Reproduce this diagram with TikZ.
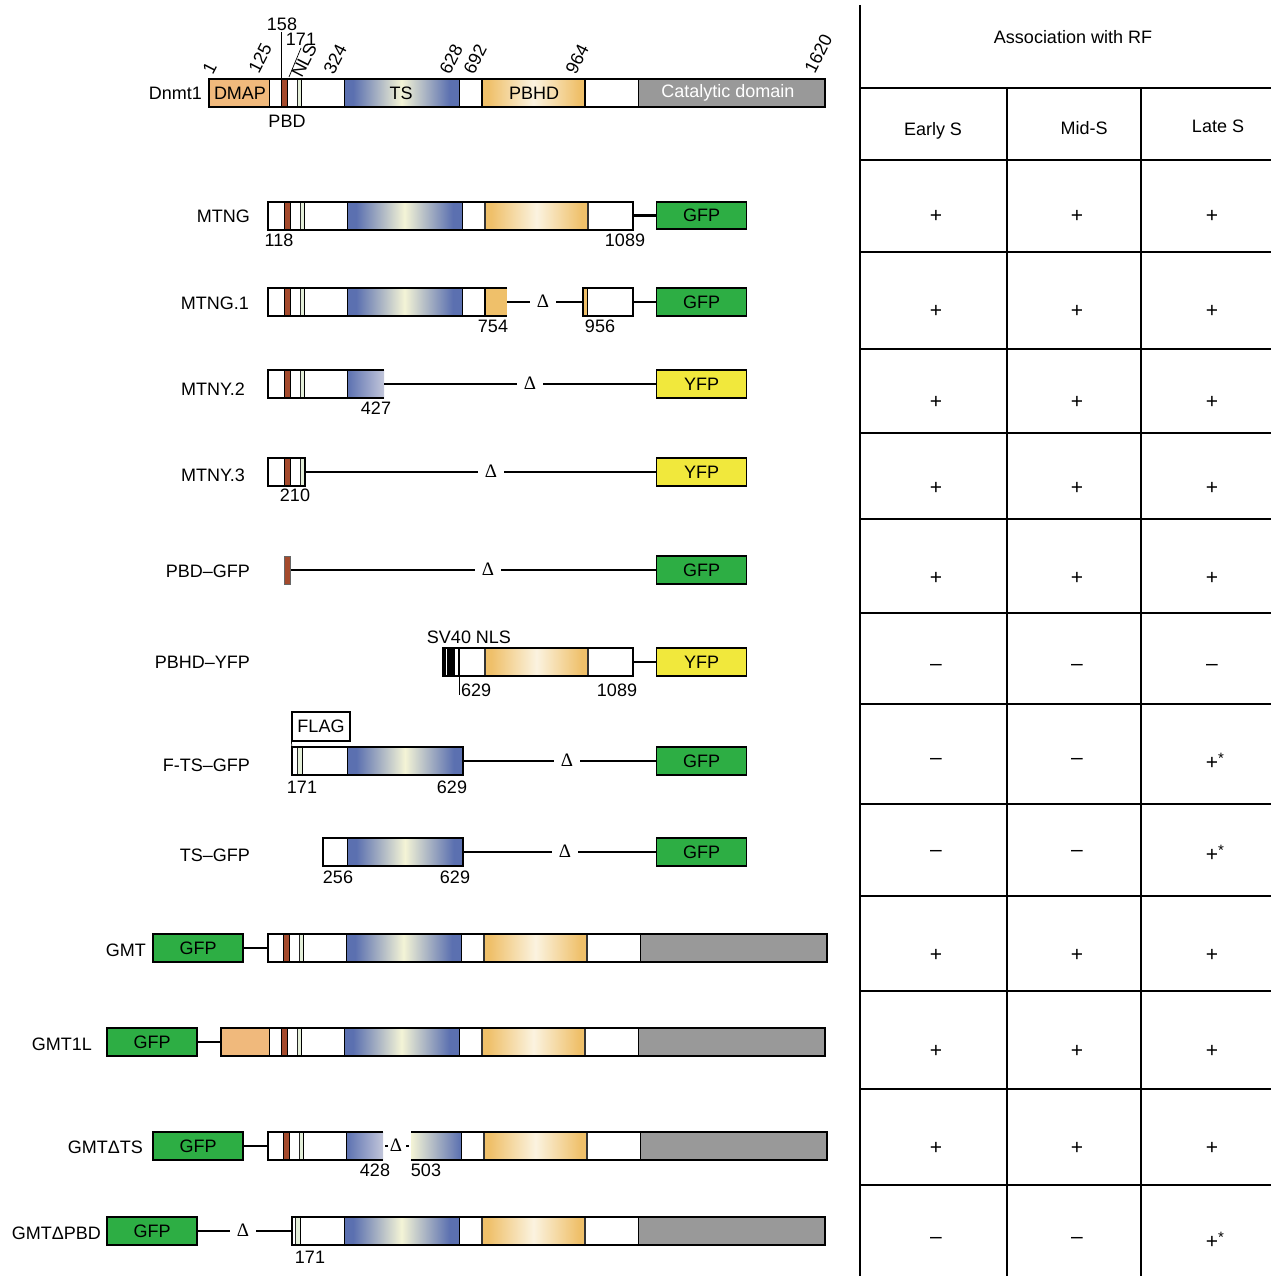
\documentclass[tikz,border=0pt]{standalone}
\usepackage{fontspec}
\setmainfont{Liberation Sans}
\newfontfamily\dserif{Liberation Serif}
\definecolor{dmap}{HTML}{F0B97C}
\definecolor{pbdc}{HTML}{A44A2C}
\definecolor{tsb}{HTML}{5B70B0}
\definecolor{tsc}{HTML}{F4F4D6}
\definecolor{tsl}{HTML}{C2C6DA}
\definecolor{pbo}{HTML}{EFC06A}
\definecolor{pbc}{HTML}{FBF3E0}
\definecolor{catc}{HTML}{999999}
\definecolor{gfpc}{HTML}{2DAE44}
\definecolor{yfpc}{HTML}{F1E83C}
\definecolor{nlsc}{HTML}{E4EFD9}
\pgfdeclarehorizontalshading{tsshade}{100bp}{color(0bp)=(tsb); color(25bp)=(tsb); color(29bp)=(tsb); color(50bp)=(tsc); color(71bp)=(tsb); color(75bp)=(tsb); color(100bp)=(tsb)}
\pgfdeclarehorizontalshading{pbshade}{100bp}{color(0bp)=(pbo); color(25bp)=(pbo); color(28bp)=(pbo); color(50bp)=(pbc); color(72bp)=(pbo); color(75bp)=(pbo); color(100bp)=(pbo)}
\newcommand\rbox[4][]{\path[#1] (#2,#4-14) rectangle (#3,#4+14);}
\newcommand\outl[3]{\draw[bar] (#1,#3-14) rectangle (#2,#3+14);}
\newcommand\headpart[2]{%
 \rbox[fill=white,seg]{#1}{281}{#2}
 \rbox[fill=pbdc,seg]{281}{287}{#2}
 \rbox[fill=white,seg]{287}{297}{#2}
 \rbox[nlsst]{297}{301}{#2}
 \rbox[fill=white,seg]{301}{344}{#2}}
\newcommand\tailcat[1]{%
 \rbox[ts,seg]{344}{459}{#1}
 \rbox[fill=white,seg]{459}{482}{#1}
 \rbox[pb,seg]{482}{585}{#1}
 \rbox[fill=white,seg]{585}{638}{#1}
 \rbox[fill=catc,seg]{638}{825}{#1}
 \rbox[pbb]{482}{585}{#1}}
\begin{document}
\begin{tikzpicture}[x=1pt,y=-1pt,
  every node/.style={font=\fontsize{18}{20}\selectfont, inner sep=0pt},
  bar/.style={draw=black,line width=2pt},
  seg/.style={draw=black,line width=0.8pt},
  nlsst/.style={fill=nlsc,draw=black!85,line width=0.7pt},
  ts/.style={shading=tsshade},
  tsfade/.style={left color=tsb,right color=tsl},
  tsfadeR/.style={left color=tsc,right color=tsb},
  pb/.style={shading=pbshade},
  pbb/.style={draw=black!80,line width=1.6pt},
  conn/.style={line width=2.2pt},
  thinl/.style={line width=0.7pt},
  tl/.style={line width=1.2pt},
  fpbox/.style={draw=black,line width=1.8pt,minimum width=90pt,minimum height=27.5pt},
  gfpbox/.style={fpbox,fill=gfpc},
  yfpbox/.style={fpbox,fill=yfpc},
  delta/.style={inner xsep=7pt,font=\dserif\fontsize{19}{20}\selectfont},
  lab/.style={anchor=east},
  sym/.style={font=\fontsize{21}{22}\selectfont},
  rot/.style={rotate=63,anchor=south west}]
\useasboundingbox (0,0) rectangle (1271,1276);
\fill[white] (0,0) rectangle (1271,1276);

% ---------------- Dnmt1 ----------------
\rbox[fill=dmap,seg]{209}{269}{93}
\headpart{269}{93}
\tailcat{93}
\rbox[draw=black,line width=2pt]{482}{585}{93}
\outl{209}{825}{93}
\node (dmapT) at (240,93) {DMAP};
\node (tsT) at (401,93) {TS};
\node (pbhdT) at (534,93) {PBHD};
\node[text=white] (catT) at (728,93) {Catalytic domain};
\node[lab] (dnmt) at (202,93) {Dnmt1};
\node (pbdT) at (287,121) {PBD};
\node[rot] (n1) at (213,76) {1};
\node[rot] (n125) at (259,75) {125};
\node[rot] (n324) at (334,76) {324};
\node[rot] (n628) at (450,76) {628};
\node[rot] (n692) at (474,76) {692};
\node[rot] (n964) at (576,76) {964};
\node[rot] (n1620) at (815,75) {1620};
\node[rot] (nNLS) at (302,79) {NLS};
\node (n158) at (282,24) {158};
\node (n171) at (301,39) {171};
\coordinate (t158a) at (281,32);
\coordinate (t158b) at (281,79);
\draw[thinl] (t158a) -- (t158b);
\coordinate (t171a) at (301,48);
\coordinate (t171b) at (289,77);
\draw[thinl] (t171a) -- (t171b);

% ---------------- MTNG ----------------
\node[lab] (lMTNG) at (250,216) {MTNG};
\begin{scope}[xshift=3pt]
\headpart{265}{215.5}
\rbox[ts,seg]{344}{459}{215.5}
\rbox[fill=white,seg]{459}{482}{215.5}
\rbox[pb,seg]{482}{585}{215.5}
\rbox[fill=white,seg]{585}{630}{215.5}
\rbox[pbb]{482}{585}{215.5}
\outl{265}{630}{215.5}
\coordinate (mtngE) at (630,215.5);
\end{scope}
\node[gfpbox] (gfpA) at (701.5,215.5) {GFP};
\draw[conn] (mtngE) -- (gfpA);
\node (a118) at (279,240) {118};
\node (a1089) at (625,240) {1089};

% ---------------- MTNG.1 ----------------
\node[lab] (lMTNG1) at (249,303) {MTNG.1};
\begin{scope}[xshift=3pt]
\headpart{265}{302}
\rbox[ts,seg]{344}{459}{302}
\rbox[fill=white,seg]{459}{482}{302}
\rbox[fill=pbo]{482}{504}{302}
\draw[line width=1.6pt] (482,288) -- (482,316);
\draw[bar] (504,288) -- (265,288) -- (265,316) -- (504,316);
\coordinate (m1a) at (504,302);
\rbox[fill=pbo]{580}{584}{302}
\rbox[fill=white,seg]{584}{630}{302}
\draw[line width=1.6pt] (580,288) -- (580,316);
\outl{580}{630}{302}
\coordinate (m1b) at (580,302);
\coordinate (m1c) at (630,302);
\end{scope}
\node[delta] (d1) at (543,301) {Δ};
\draw[conn] (m1a) -- (d1.west |- m1a);
\draw[conn] (d1.east |- m1b) -- (m1b);
\node[gfpbox] (gfpB) at (701.5,302) {GFP};
\draw[conn] (m1c) -- (gfpB);
\node (a754) at (493,326) {754};
\node (a956) at (600,326) {956};

% ---------------- MTNY.2 ----------------
\node[lab] (lMTNY2) at (245,389) {MTNY.2};
\begin{scope}[xshift=3pt]
\headpart{265}{384}
\rbox[tsfade]{344}{381}{384}
\draw[seg] (344,370) -- (344,398);
\draw[bar] (381,370) -- (265,370) -- (265,398) -- (381,398);
\coordinate (m2a) at (381,384);
\end{scope}
\node[delta] (d2) at (530,383) {Δ};
\node[yfpbox] (yfpA) at (701.5,384) {YFP};
\draw[conn] (m2a) -- (d2.west |- m2a);
\draw[conn] (d2.east |- yfpA) -- (yfpA);
\node (a427) at (376,408) {427};

% ---------------- MTNY.3 ----------------
\node[lab] (lMTNY3) at (245,475) {MTNY.3};
\begin{scope}[xshift=3pt]
\rbox[fill=white,seg]{265}{281}{472}
\rbox[fill=pbdc,seg]{281}{287}{472}
\rbox[fill=white,seg]{287}{297}{472}
\rbox[nlsst]{297}{301}{472}
\outl{265}{302}{472}
\coordinate (m3a) at (302,472);
\end{scope}
\node[delta] (d3) at (491,471) {Δ};
\node[yfpbox] (yfpB) at (701.5,472) {YFP};
\draw[conn] (m3a) -- (d3.west |- m3a);
\draw[conn] (d3.east |- yfpB) -- (yfpB);
\node (a210) at (295,495) {210};

% ---------------- PBD-GFP ----------------
\node[lab] (lPBD) at (250,571) {PBD–GFP};
\rbox[fill=pbdc,draw=black!60,line width=0.6pt]{284.5}{290.5}{570}
\coordinate (pa) at (290.5,570);
\node[delta] (d4) at (488,569) {Δ};
\node[gfpbox] (gfpC) at (701.5,570) {GFP};
\draw[conn] (pa) -- (d4.west |- pa);
\draw[conn] (d4.east |- gfpC) -- (gfpC);

% ---------------- PBHD-YFP ----------------
\node[lab] (lPBHD) at (250,662) {PBHD–YFP};
\rbox[fill=black]{443}{455}{662}
\draw[white,line width=0.6pt] (446.5,649) -- (446.5,675);
\rbox[fill=white,seg]{458}{485}{662}
\rbox[pb,seg]{485}{588}{662}
\rbox[fill=white,seg]{588}{633}{662}
\rbox[pbb]{485}{588}{662}
\outl{443}{633}{662}
\coordinate (pha) at (633,662);
\coordinate (tk1) at (459,648);
\coordinate (tk2) at (459,695);
\draw[thinl] (tk1) -- (tk2);
\node[yfpbox] (yfpC) at (701.5,662) {YFP};
\draw[conn] (pha) -- (yfpC);
\node (sv40) at (469,637) {SV40 NLS};
\node[anchor=west] (a629a) at (461,690) {629};
\node (a1089b) at (617,690) {1089};

% ---------------- F-TS-GFP ----------------
\node[lab] (lFTS) at (250,765) {F-TS–GFP};
\node[draw=black,line width=1.3pt,minimum width=58pt,minimum height=29pt] (flag) at (321,726.5) {FLAG};
\coordinate (flb) at (292,747);
\draw[thinl] (flag.south west) -- (flb);
\rbox[fill=white,seg]{292}{297}{761}
\rbox[nlsst]{297}{302}{761}
\rbox[fill=white,seg]{302}{347}{761}
\rbox[ts,seg]{347}{463}{761}
\outl{292}{463}{761}
\coordinate (fa) at (463,761);
\node[delta] (d5) at (567,760) {Δ};
\node[gfpbox] (gfpD) at (701.5,761) {GFP};
\draw[conn] (fa) -- (d5.west |- fa);
\draw[conn] (d5.east |- gfpD) -- (gfpD);
\node (a171a) at (302,787) {171};
\node (a629b) at (452,787) {629};

% ---------------- TS-GFP ----------------
\node[lab] (lTS) at (250,855) {TS–GFP};
\rbox[fill=white,seg]{323}{347}{852}
\rbox[ts,seg]{347}{463}{852}
\outl{323}{463}{852}
\coordinate (tsa) at (463,852);
\node[delta] (d6) at (565,851) {Δ};
\node[gfpbox] (gfpE) at (701.5,852) {GFP};
\draw[conn] (tsa) -- (d6.west |- tsa);
\draw[conn] (d6.east |- gfpE) -- (gfpE);
\node (a256) at (338,877) {256};
\node (a629c) at (455,877) {629};

% ---------------- GMT ----------------
\node[lab] (lGMT) at (146,950) {GMT};
\node[gfpbox] (gfpF) at (198,948) {GFP};
\begin{scope}[xshift=2pt]
\headpart{266}{948}
\tailcat{948}
\outl{266}{825}{948}
\coordinate (gma) at (266,948);
\end{scope}
\draw[conn] (gfpF) -- (gma);

% ---------------- GMT1L ----------------
\node[lab] (lGMT1L) at (92,1044) {GMT1L};
\node[gfpbox] (gfpG) at (152,1042) {GFP};
\rbox[fill=dmap,seg]{221}{269}{1042}
\headpart{269}{1042}
\tailcat{1042}
\outl{221}{825}{1042}
\coordinate (g1a) at (221,1042);
\draw[conn] (gfpG) -- (g1a);

% ---------------- GMT dTS ----------------
\node[lab] (lGMTdTS) at (143,1147) {GMTΔTS};
\node[gfpbox] (gfpH) at (198,1146) {GFP};
\begin{scope}[xshift=2pt]
\headpart{266}{1146}
\rbox[tsfade]{344}{381}{1146}
\draw[seg] (344,1132) -- (344,1160);
\draw[bar] (381,1132) -- (266,1132) -- (266,1160) -- (381,1160);
\rbox[tsfadeR]{409}{459}{1146}
\rbox[fill=white,seg]{459}{482}{1146}
\rbox[pb,seg]{482}{585}{1146}
\rbox[fill=white,seg]{585}{638}{1146}
\rbox[fill=catc,seg]{638}{825}{1146}
\rbox[pbb]{482}{585}{1146}
\draw[seg] (459,1132) -- (459,1160);
\draw[bar] (409,1132) -- (825,1132) -- (825,1160) -- (409,1160);
\coordinate (gta) at (266,1146);
\coordinate (gtb1) at (383,1146);
\coordinate (gtb2) at (386,1146);
\coordinate (gtc1) at (404,1146);
\coordinate (gtc2) at (407,1146);
\end{scope}
\draw[conn] (gfpH) -- (gta);
\draw[conn] (gtb1) -- (gtb2);
\draw[conn] (gtc1) -- (gtc2);
\node[font=\dserif\fontsize{19}{20}\selectfont] (d7) at (396,1145) {Δ};
\node (a428) at (375,1170) {428};
\node (a503) at (426,1170) {503};

% ---------------- GMT dPBD ----------------
\node[lab] (lGMTdPBD) at (101,1233) {GMTΔPBD};
\node[gfpbox] (gfpI) at (152,1231) {GFP};
\rbox[fill=white,seg]{292}{295}{1231}
\rbox[nlsst]{295}{300}{1231}
\rbox[fill=white,seg]{300}{344}{1231}
\tailcat{1231}
\outl{292}{825}{1231}
\coordinate (gpa) at (292,1231);
\node[delta] (d8) at (243,1230) {Δ};
\draw[conn] (gfpI) -- (d8.west |- gfpI);
\draw[conn] (d8.east |- gpa) -- (gpa);
\node (a171b) at (310,1257) {171};

% ---------------- Table ----------------
\draw[tl] (860,5) -- (860,1276);
\draw[tl] (860,88) -- (1271,88);
\draw[tl] (1007,88) -- (1007,1276);
\draw[tl] (1141,88) -- (1141,1276);
\foreach \yy in {160,252,349,433,519,613,704,804,896,991,1089,1185}
  \draw[tl] (860,\yy) -- (1271,\yy);
\node (hA) at (1073,37) {Association with RF};
\node (hE) at (933,131) {Early S};
\node (hM) at (1084,128) {Mid-S};
\node (hL) at (1218,126) {Late S};
\foreach \yy/\a/\b/\c [count=\i] in {
  216/+/+/+, 311/+/+/+, 402/+/+/+, 488/+/+/+, 578/+/+/+,
  667/–/–/–, 761/–/–/{+\rlap{\raisebox{6pt}{\fontsize{15}{15}\selectfont *}}}, 853/–/–/{+\rlap{\raisebox{6pt}{\fontsize{15}{15}\selectfont *}}},
  955/+/+/+, 1051/+/+/+, 1148/+/+/+, 1240/–/–/{+\rlap{\raisebox{6pt}{\fontsize{15}{15}\selectfont *}}}} {
  \node[sym] (cE\i) at (936,\yy) {\a};
  \node[sym] (cM\i) at (1077,\yy) {\b};
  \node[sym] (cL\i) at (1212,\yy) {\c};
}
\end{tikzpicture}
\end{document}
